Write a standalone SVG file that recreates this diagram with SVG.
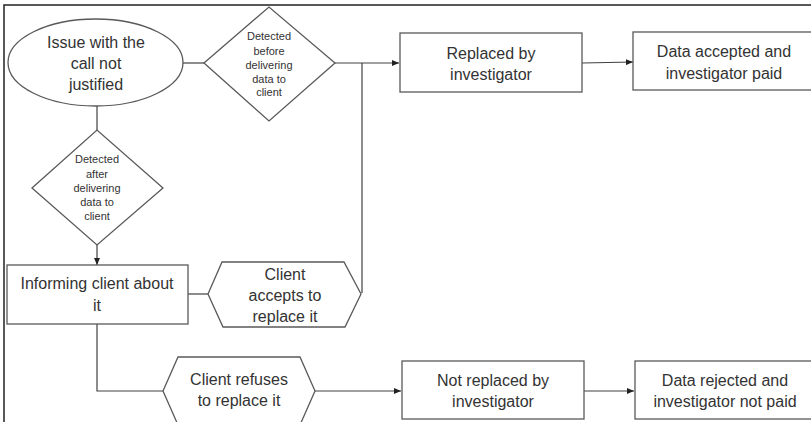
<svg xmlns="http://www.w3.org/2000/svg" width="811" height="422" viewBox="0 0 811 422">
<defs>
<style>
.shape{fill:#fff;stroke:#595959;stroke-width:1.3}
.frame{fill:none;stroke:#222;stroke-width:1.5}
.conn{fill:none;stroke:#404040;stroke-width:1.2}
.t{font-family:"Liberation Sans",Arial,sans-serif;font-size:16px;fill:#333;text-anchor:middle}
.s{font-family:"Liberation Sans",Arial,sans-serif;font-size:11px;fill:#333;text-anchor:middle}
</style>
<marker id="arr" markerWidth="7" markerHeight="6" refX="7" refY="3" orient="auto" markerUnits="userSpaceOnUse">
<path d="M0,0 L7,3 L0,6 Z" fill="#222"/>
</marker>
</defs>
<rect width="811" height="422" fill="#fff"/>
<path class="frame" d="M4,422 V5 H811"/>
<g id="connectors">
<path class="conn" d="M183,63 H204"/>
<path class="conn" d="M335,63 H399" marker-end="url(#arr)"/>
<path class="conn" d="M362,293 V63"/>
<path class="conn" d="M582,63 L633,62" marker-end="url(#arr)"/>
<path class="conn" d="M97,106 V130"/>
<path class="conn" d="M97,245 V265" marker-end="url(#arr)"/>
<path class="conn" d="M188,294 H208"/>
<path class="conn" d="M97,324 V391 H163"/>
<path class="conn" d="M315,391 H401" marker-end="url(#arr)"/>
<path class="conn" d="M584,391 H634" marker-end="url(#arr)"/>
</g>
<g id="issue">
<ellipse class="shape" cx="95.5" cy="62.5" rx="87.5" ry="43.5"/>
<text class="t" x="96" y="48">Issue with the</text>
<text class="t" x="96" y="69">call not</text>
<text class="t" x="96" y="90">justified</text>
</g>
<g id="detected-before">
<polygon class="shape" points="204,63 269,7 335,63 269,121"/>
<text class="s" x="269" y="40">Detected</text>
<text class="s" x="269" y="55">before</text>
<text class="s" x="269" y="69">delivering</text>
<text class="s" x="269" y="83">data to</text>
<text class="s" x="269" y="96">client</text>
</g>
<g id="replaced">
<rect class="shape" x="400" y="33" width="182" height="59"/>
<text class="t" x="491" y="59">Replaced by</text>
<text class="t" x="491" y="80">investigator</text>
</g>
<g id="accepted">
<rect class="shape" x="633" y="32" width="183" height="58"/>
<text class="t" x="724" y="57">Data accepted and</text>
<text class="t" x="724" y="79">investigator paid</text>
</g>
<g id="detected-after">
<polygon class="shape" points="32,188 97,130 163,188 97,245"/>
<text class="s" x="97" y="163">Detected</text>
<text class="s" x="97" y="178">after</text>
<text class="s" x="97" y="192">delivering</text>
<text class="s" x="97" y="206">data to</text>
<text class="s" x="97" y="220">client</text>
</g>
<g id="informing">
<rect class="shape" x="7" y="265" width="181" height="59"/>
<text class="t" x="97" y="289">Informing client about</text>
<text class="t" x="97" y="311">it</text>
</g>
<g id="client-accepts">
<polygon class="shape" points="208,294 222,262 344,262 361,294 345,327 223,327"/>
<text class="t" x="285" y="280">Client</text>
<text class="t" x="285" y="301">accepts to</text>
<text class="t" x="285" y="322">replace it</text>
</g>
<g id="client-refuses">
<polygon class="shape" points="163,391 178,357 300,357 315,391 300,425 178,425"/>
<text class="t" x="239" y="385">Client refuses</text>
<text class="t" x="239" y="406">to replace it</text>
</g>
<g id="not-replaced">
<rect class="shape" x="402" y="361" width="182" height="58"/>
<text class="t" x="493" y="386">Not replaced by</text>
<text class="t" x="493" y="407">investigator</text>
</g>
<g id="rejected">
<rect class="shape" x="635" y="361" width="181" height="58"/>
<text class="t" x="725" y="386">Data rejected and</text>
<text class="t" x="725" y="407">investigator not paid</text>
</g>
</svg>
